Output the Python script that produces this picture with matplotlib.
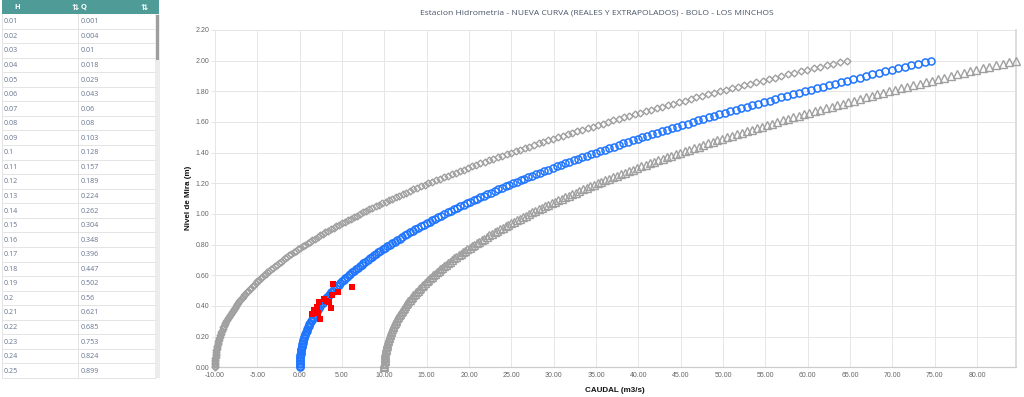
import matplotlib
matplotlib.use("Agg")
import matplotlib.pyplot as plt
from matplotlib.patches import Rectangle
import numpy as np

# ---------------- data ----------------
H = [0.00, 0.01, 0.02, 0.03, 0.04, 0.05, 0.06, 0.07, 0.08, 0.09,
     0.10, 0.11, 0.12, 0.13, 0.14, 0.15, 0.16, 0.17, 0.18, 0.19,
     0.20, 0.21, 0.22, 0.23, 0.24, 0.25, 0.26, 0.27, 0.28, 0.29,
     0.30, 0.31, 0.32, 0.33, 0.34, 0.35, 0.36, 0.37, 0.38, 0.39,
     0.40, 0.41, 0.42, 0.43, 0.44, 0.45, 0.46, 0.47, 0.48, 0.49,
     0.50, 0.51, 0.52, 0.53, 0.54, 0.55, 0.56, 0.57, 0.58, 0.59,
     0.60, 0.61, 0.62, 0.63, 0.64, 0.65, 0.66, 0.67, 0.68, 0.69,
     0.70, 0.71, 0.72, 0.73, 0.74, 0.75, 0.76, 0.77, 0.78, 0.79,
     0.80, 0.81, 0.82, 0.83, 0.84, 0.85, 0.86, 0.87, 0.88, 0.89,
     0.90, 0.91, 0.92, 0.93, 0.94, 0.95, 0.96, 0.97, 0.98, 0.99,
     1.00, 1.01, 1.02, 1.03, 1.04, 1.05, 1.06, 1.07, 1.08, 1.09,
     1.10, 1.11, 1.12, 1.13, 1.14, 1.15, 1.16, 1.17, 1.18, 1.19,
     1.20, 1.21, 1.22, 1.23, 1.24, 1.25, 1.26, 1.27, 1.28, 1.29,
     1.30, 1.31, 1.32, 1.33, 1.34, 1.35, 1.36, 1.37, 1.38, 1.39,
     1.40, 1.41, 1.42, 1.43, 1.44, 1.45, 1.46, 1.47, 1.48, 1.49,
     1.50, 1.51, 1.52, 1.53, 1.54, 1.55, 1.56, 1.57, 1.58, 1.59,
     1.60, 1.61, 1.62, 1.63, 1.64, 1.65, 1.66, 1.67, 1.68, 1.69,
     1.70, 1.71, 1.72, 1.73, 1.74, 1.75, 1.76, 1.77, 1.78, 1.79,
     1.80, 1.81, 1.82, 1.83, 1.84, 1.85, 1.86, 1.87, 1.88, 1.89,
     1.90, 1.91, 1.92, 1.93, 1.94, 1.95, 1.96, 1.97, 1.98, 1.99,
     2.00]

Q_curva = [0.000, 0.001, 0.004, 0.010, 0.018, 0.029, 0.043, 0.060, 0.080, 0.103,
           0.128, 0.157, 0.189, 0.224, 0.262, 0.304, 0.348, 0.396, 0.447, 0.502,
           0.560, 0.621, 0.685, 0.753, 0.824, 0.899, 0.977, 1.058, 1.143, 1.232,
           1.324, 1.420, 1.519, 1.621, 1.727, 1.837, 1.950, 2.067, 2.188, 2.312,
           2.440, 2.571, 2.706, 2.845, 2.988, 3.134, 3.284, 3.437, 3.594, 3.755,
           3.920, 4.089, 4.261, 4.437, 4.617, 4.800, 4.988, 5.179, 5.374, 5.573,
           5.775, 5.982, 6.192, 6.406, 6.624, 6.846, 7.072, 7.301, 7.535, 7.772,
           8.014, 8.259, 8.508, 8.761, 9.018, 9.279, 9.544, 9.813, 10.085, 10.362,
           10.643, 10.928, 11.216, 11.509, 11.806, 12.106, 12.411, 12.720, 13.032, 13.349,
           13.670, 13.995, 14.323, 14.656, 14.993, 15.334, 15.679, 16.028, 16.381, 16.739,
           17.100, 17.465, 17.835, 18.209, 18.586, 18.968, 19.354, 19.744, 20.138, 20.537,
           20.939, 21.346, 21.756, 22.171, 22.590, 23.013, 23.441, 23.872, 24.308, 24.748,
           25.192, 25.640, 26.092, 26.549, 27.010, 27.475, 27.944, 28.417, 28.895, 29.376,
           29.862, 30.353, 30.847, 31.346, 31.849, 32.356, 32.867, 33.383, 33.903, 34.427,
           34.956, 35.488, 36.025, 36.567, 37.112, 37.662, 38.216, 38.774, 39.337, 39.904,
           40.475, 41.051, 41.631, 42.215, 42.803, 43.396, 43.993, 44.595, 45.200, 45.810,
           46.425, 47.044, 47.667, 48.294, 48.926, 49.562, 50.203, 50.847, 51.497, 52.150,
           52.808, 53.470, 54.137, 54.808, 55.483, 56.163, 56.847, 57.536, 58.229, 58.926,
           59.628, 60.334, 61.045, 61.760, 62.479, 63.203, 63.931, 64.664, 65.401, 66.142,
           66.888, 67.638, 68.393, 69.152, 69.916, 70.684, 71.456, 72.233, 73.015, 73.800,
           74.591]

Q_inferior = [-10.000, -9.999, -9.996, -9.990, -9.982, -9.971, -9.957, -9.940, -9.920, -9.897,
              -9.872, -9.843, -9.811, -9.776, -9.738, -9.696, -9.652, -9.604, -9.553, -9.498,
              -9.440, -9.379, -9.315, -9.247, -9.176, -9.101, -9.023, -8.942, -8.857, -8.768,
              -8.676, -8.580, -8.481, -8.379, -8.273, -8.163, -8.050, -7.933, -7.812, -7.688,
              -7.560, -7.429, -7.294, -7.155, -7.012, -6.866, -6.716, -6.563, -6.406, -6.245,
              -6.080, -5.911, -5.739, -5.563, -5.383, -5.200, -5.012, -4.821, -4.626, -4.427,
              -4.225, -4.018, -3.808, -3.594, -3.376, -3.154, -2.928, -2.699, -2.465, -2.228,
              -1.986, -1.741, -1.492, -1.239, -0.982, -0.721, -0.456, -0.187, 0.085, 0.362,
              0.643, 0.928, 1.216, 1.509, 1.806, 2.106, 2.411, 2.720, 3.032, 3.349,
              3.670, 3.995, 4.323, 4.656, 4.993, 5.334, 5.679, 6.028, 6.381, 6.739,
              7.100, 7.465, 7.835, 8.209, 8.586, 8.968, 9.354, 9.744, 10.138, 10.537,
              10.939, 11.346, 11.756, 12.171, 12.590, 13.013, 13.441, 13.872, 14.308, 14.748,
              15.192, 15.640, 16.092, 16.549, 17.010, 17.475, 17.944, 18.417, 18.895, 19.376,
              19.862, 20.353, 20.847, 21.346, 21.849, 22.356, 22.867, 23.383, 23.903, 24.427,
              24.956, 25.488, 26.025, 26.567, 27.112, 27.662, 28.216, 28.774, 29.337, 29.904,
              30.475, 31.051, 31.631, 32.215, 32.803, 33.396, 33.993, 34.595, 35.200, 35.810,
              36.425, 37.044, 37.667, 38.294, 38.926, 39.562, 40.203, 40.847, 41.497, 42.150,
              42.808, 43.470, 44.137, 44.808, 45.483, 46.163, 46.847, 47.536, 48.229, 48.926,
              49.628, 50.334, 51.045, 51.760, 52.479, 53.203, 53.931, 54.664, 55.401, 56.142,
              56.888, 57.638, 58.393, 59.152, 59.916, 60.684, 61.456, 62.233, 63.015, 63.800,
              64.591]

Q_superior = [10.000, 10.001, 10.004, 10.010, 10.018, 10.029, 10.043, 10.060, 10.080, 10.103,
              10.128, 10.157, 10.189, 10.224, 10.262, 10.304, 10.348, 10.396, 10.447, 10.502,
              10.560, 10.621, 10.685, 10.753, 10.824, 10.899, 10.977, 11.058, 11.143, 11.232,
              11.324, 11.420, 11.519, 11.621, 11.727, 11.837, 11.950, 12.067, 12.188, 12.312,
              12.440, 12.571, 12.706, 12.845, 12.988, 13.134, 13.284, 13.437, 13.594, 13.755,
              13.920, 14.089, 14.261, 14.437, 14.617, 14.800, 14.988, 15.179, 15.374, 15.573,
              15.775, 15.982, 16.192, 16.406, 16.624, 16.846, 17.072, 17.301, 17.535, 17.772,
              18.014, 18.259, 18.508, 18.761, 19.018, 19.279, 19.544, 19.813, 20.085, 20.362,
              20.643, 20.928, 21.216, 21.509, 21.806, 22.106, 22.411, 22.720, 23.032, 23.349,
              23.670, 23.995, 24.323, 24.656, 24.993, 25.334, 25.679, 26.028, 26.381, 26.739,
              27.100, 27.465, 27.835, 28.209, 28.586, 28.968, 29.354, 29.744, 30.138, 30.537,
              30.939, 31.346, 31.756, 32.171, 32.590, 33.013, 33.441, 33.872, 34.308, 34.748,
              35.192, 35.640, 36.092, 36.549, 37.010, 37.475, 37.944, 38.417, 38.895, 39.376,
              39.862, 40.353, 40.847, 41.346, 41.849, 42.356, 42.867, 43.383, 43.903, 44.427,
              44.956, 45.488, 46.025, 46.567, 47.112, 47.662, 48.216, 48.774, 49.337, 49.904,
              50.475, 51.051, 51.631, 52.215, 52.803, 53.396, 53.993, 54.595, 55.200, 55.810,
              56.425, 57.044, 57.667, 58.294, 58.926, 59.562, 60.203, 60.847, 61.497, 62.150,
              62.808, 63.470, 64.137, 64.808, 65.483, 66.163, 66.847, 67.536, 68.229, 68.926,
              69.628, 70.334, 71.045, 71.760, 72.479, 73.203, 73.931, 74.664, 75.401, 76.142,
              76.888, 77.638, 78.393, 79.152, 79.916, 80.684, 81.456, 82.233, 83.015, 83.800,
              84.591]

# measured gaugings (aforos)
aforo_Q = [3.88, 6.19, 4.47, 3.76, 2.88, 3.48, 3.09, 2.26, 3.68, 2.06, 1.67, 1.51, 2.17, 2.38]
aforo_H = [0.543, 0.526, 0.493, 0.472, 0.446, 0.424, 0.434, 0.424, 0.385, 0.395, 0.372, 0.350, 0.354, 0.315]

titulo = "Estacion Hidrometria - NUEVA CURVA (REALES Y EXTRAPOLADOS) - BOLO - LOS MINCHOS"
x_label = "CAUDAL (m3/s)"
y_label = "Nivel de Mira (m)"
table_headers = ["H", "Q"]
table_rows = 25

# ---------------- figure ----------------
W, HP = 1024, 397
PT = 0.72  # points per pixel at dpi 100
fig = plt.figure(figsize=(W / 100, HP / 100), dpi=100)
fig.patch.set_facecolor("white")

ax_left, ax_right, ax_top, ax_bot = 215, 1016, 30, 367.3
ax = fig.add_axes([ax_left / W, 1 - ax_bot / HP, (ax_right - ax_left) / W, (ax_bot - ax_top) / HP])

grid_c = "#e6e6e6"
ax.plot(Q_inferior, H, ls="none", marker="D", ms=3.5, mfc="none", mec="#a0a0a0", mew=1.0, clip_on=False, zorder=3)
ax.plot(Q_superior, H, ls="none", marker="^", ms=5.3, mfc="none", mec="#a0a0a0", mew=1.0, clip_on=False, zorder=3)
ax.plot(Q_curva, H, ls="none", marker="o", ms=5.1, mfc="none", mec="#1f75fe", mew=1.1, clip_on=False, zorder=4)
ax.plot(aforo_Q, aforo_H, ls="none", marker="s", ms=4.2, mfc="#ff0000", mec="#ff0000", mew=0, clip_on=False, zorder=5)

ax.set_xlim(min(Q_inferior), max(Q_superior))
ax.set_ylim(0, 2.2)
ax.set_xticks(np.arange(-10, 81, 5))
ax.set_yticks(np.arange(0, 2.21, 0.2))
ax.xaxis.set_major_formatter(matplotlib.ticker.FormatStrFormatter("%.2f"))
ax.yaxis.set_major_formatter(matplotlib.ticker.FormatStrFormatter("%.2f"))
ax.grid(True, color=grid_c, lw=1 * PT, zorder=0)
ax.set_axisbelow(True)
for lab in ax.get_xticklabels() + ax.get_yticklabels():
    lab.set_fontfamily("Liberation Sans")
    lab.set_fontsize(7.0 * PT)
    lab.set_color("#666666")
ax.tick_params(axis="x", length=0, pad=5 * PT)
ax.tick_params(axis="y", length=4 * PT, width=1 * PT, color=grid_c, pad=2 * PT)
ax.spines["left"].set_visible(False)
ax.spines["top"].set_visible(False)
ax.spines["bottom"].set_color("#cccccc")
ax.spines["bottom"].set_linewidth(1.2 * PT)
ax.spines["right"].set_color("#dddddd")
ax.spines["right"].set_linewidth(2 * PT)

fig.text(597 / W, 1 - 13 / HP, titulo, ha="center", va="center", fontsize=8.5 * PT,
         family="Open Sans", color="#4a5568")
fig.text(188 / W, 1 - 198 / HP, y_label, rotation=90, ha="center", va="center",
         fontsize=8.0 * PT, family="Liberation Sans", fontweight="bold", color="#111111")
fig.text(615 / W, 1 - 390 / HP, x_label, ha="center", va="center",
         fontsize=8.0 * PT, family="Liberation Sans", fontweight="bold", color="#111111")

# ---------------- data table (left panel) ----------------
tb = fig.add_axes([0, 0, 1, 1])
tb.set_xlim(0, W)
tb.set_ylim(HP, 0)
tb.axis("off")
tb.patch.set_alpha(0)

hdr_h = 14
row_h = 14.56
x0, x_div, x_cell_end, x_end = 2, 78, 155, 160
teal = "#4f9b97"
tb.add_patch(Rectangle((x0, 0), x_end - x0 - 1, hdr_h, facecolor=teal, edgecolor="none"))
tb.text(17, hdr_h / 2 + 0.5, table_headers[0], ha="center", va="center", color="white",
        fontsize=7.5 * PT, fontweight="bold", family="Open Sans")
tb.text(84, hdr_h / 2 + 0.5, table_headers[1], ha="center", va="center", color="white",
        fontsize=7.5 * PT, fontweight="bold", family="Open Sans")
for xi in (75, 144):
    tb.text(xi, hdr_h / 2 + 0.5, "\u21c5", ha="center", va="center", color="white",
            fontsize=8.5 * PT, fontweight="bold", family="DejaVu Sans")

# scrollbar
tb.add_patch(Rectangle((x_cell_end, hdr_h), x_end - x_cell_end, row_h * table_rows,
                       facecolor="#ececec", edgecolor="none"))
tb.add_patch(Rectangle((x_cell_end + 1, hdr_h + 1), 2.6, 45, facecolor="#9e9e9e", edgecolor="none"))

line_c = "#e4e4e4"
for i in range(table_rows):
    y0 = hdr_h + i * row_h
    tb.plot([x0, x_cell_end], [y0 + row_h, y0 + row_h], color=line_c, lw=1 * PT)
    tb.text(x0 + 2, y0 + row_h / 2 + 0.5, f"{H[i + 1]:g}", ha="left", va="center",
            fontsize=7.2 * PT, family="Open Sans", color="#64748f")
    tb.text(x_div + 3, y0 + row_h / 2 + 0.5, f"{Q_curva[i + 1]:g}", ha="left", va="center",
            fontsize=7.2 * PT, family="Open Sans", color="#64748f")
tb.plot([x_div, x_div], [hdr_h, hdr_h + row_h * table_rows], color=line_c, lw=1 * PT)
tb.plot([x0, x0], [hdr_h, hdr_h + row_h * table_rows], color=line_c, lw=1 * PT)

fig.savefig("out.png", dpi=100, facecolor="white")
